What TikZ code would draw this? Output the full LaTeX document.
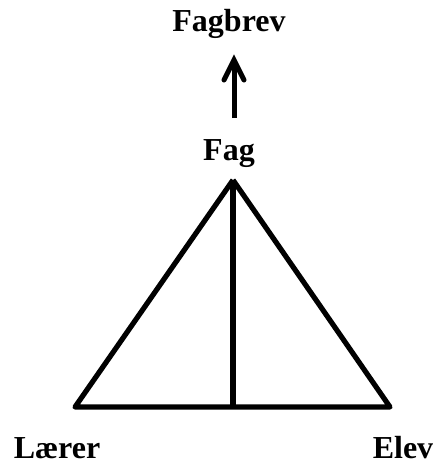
\documentclass[tikz,border=0pt]{standalone}
\usepackage{fontspec}
\setmainfont{Liberation Serif}

\tikzset{
  label text/.style={font=\fontsize{16}{19}\selectfont\bfseries, anchor=base, inner sep=1pt},
  thick line/.style={line width=2.6pt, line join=round}
}

\begin{document}
\begin{tikzpicture}[x=0.5pt, y=-0.5pt]
\useasboundingbox (0, 0) rectangle (434, 465);

% Hjørner i trekanten
\coordinate (Top) at (233, 180);
\coordinate (Left) at (75, 407);
\coordinate (Right) at (390, 407);
\coordinate (Mid) at (233, 407);

% Trekant
\draw[thick line] (Top) -- (Left) -- (Right) -- (Top);
\draw[thick line] (Top) -- (Mid);

% Etiketter
\node[label text] (Fag) at (229, 160) {Fag};
\node[label text] (Fagbrev) at (229, 32) {Fagbrev};
\node[label text] (Laerer) at (57, 458) {Lærer};
\node[label text] (Elev) at (403, 458) {Elev};

% Pil mot fagbrev
\coordinate (ArrowStart) at (234, 118);
\coordinate (ArrowEnd) at (234, 60);
\coordinate (WingL) at (224, 80);
\coordinate (WingR) at (244, 80);
\draw[line width=2.5pt] (ArrowStart) -- (ArrowEnd);
\draw[line width=2.5pt, line join=miter, line cap=round] (WingL) -- (ArrowEnd) -- (WingR);

\end{tikzpicture}
\end{document}
